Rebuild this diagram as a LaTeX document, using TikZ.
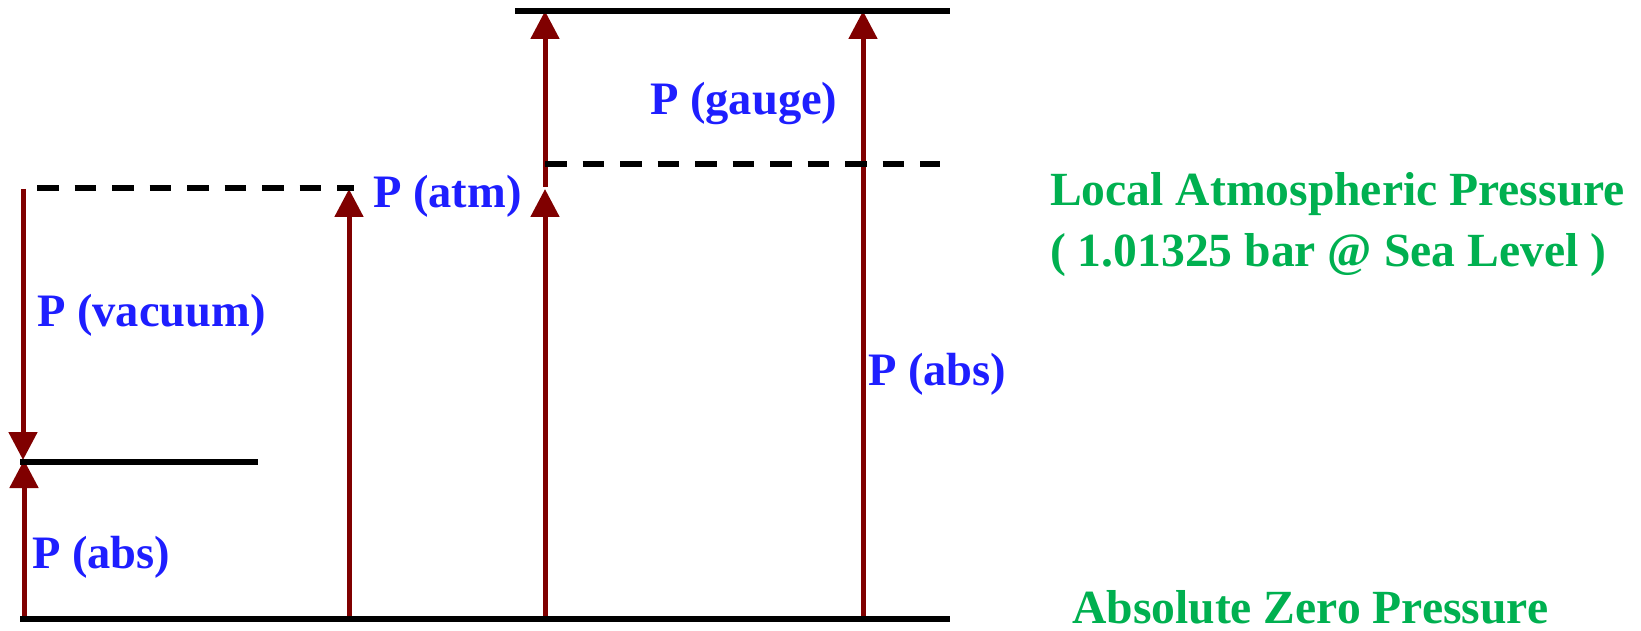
\documentclass[tikz,border=0pt]{standalone}
\usepackage{fontspec}
\setmainfont{Liberation Serif}
\usetikzlibrary{arrows.meta}
\definecolor{arr}{RGB}{128,0,0}
\definecolor{lbl}{RGB}{30,30,255}
\definecolor{grn}{RGB}{0,176,80}
\begin{document}
\begin{tikzpicture}[x=1pt,y=-1pt,
 level/.style={line width=5.5pt,black},
 dashlevel/.style={line width=5.5pt,black,dash pattern=on 21.5pt off 16pt},
 parr/.style={line width=5pt,arr,-{Triangle[width=28pt,length=28pt]}},
 lab/.style={text=lbl,font=\bfseries\fontsize{46.5}{55}\selectfont,inner sep=0pt,anchor=base west},
 glab/.style={text=grn,font=\bfseries\fontsize{47.6}{60}\selectfont,inner sep=0pt,anchor=base west}]
\useasboundingbox (0,0) rectangle (1641,631);
% coordinates
\coordinate (b0) at (20,619);
\coordinate (b1) at (950,619);
\coordinate (t0) at (515,11);
\coordinate (t1) at (950,11);
\coordinate (s0) at (20,462);
\coordinate (s1) at (258,462);
\coordinate (dl0) at (37,188);
\coordinate (dl1) at (354,188);
\coordinate (dr0) at (545,164);
\coordinate (dr1) at (940,164);
\coordinate (vtop) at (23,189);
\coordinate (vtip) at (23,460);
\coordinate (abot) at (24,619);
\coordinate (atip) at (24,460);
\coordinate (mbot) at (349,619);
\coordinate (mtip) at (349,189);
\coordinate (cbot) at (545,619);
\coordinate (ctip) at (545,189);
\coordinate (ubot) at (545,187);
\coordinate (utip) at (545,11);
\coordinate (rbot) at (863,619);
\coordinate (rtip) at (863,11);
% arrows
\draw[parr] (vtop) -- (vtip);
\draw[parr] (abot) -- (atip);
\draw[parr] (mbot) -- (mtip);
\draw[parr] (cbot) -- (ctip);
\draw[parr] (ubot) -- (utip);
\draw[parr] (rbot) -- (rtip);
% levels
\draw[level] (b0) -- (b1);
\draw[level] (t0) -- (t1);
\draw[level] (s0) -- (s1);
\draw[dashlevel] (dl0) -- (dl1);
\draw[dashlevel] (dr0) -- (dr1);
% labels
\node[lab] (vac) at (37,326) {P (vacuum)};
\node[lab] (absl) at (32,568) {P (abs)};
\node[lab] (atm) at (373,208) {P (atm)};
\node[lab] (gauge) at (650,115) {P (gauge)};
\node[lab] (absr) at (868,385) {P (abs)};
\node[glab] (local1) at (1050,206) {Local Atmospheric Pressure};
\node[glab] (local2) at (1050,266) {( 1.01325 bar @ Sea Level )};
\node[glab] (zero) at (1072,623) {Absolute Zero Pressure};
\end{tikzpicture}
\end{document}
